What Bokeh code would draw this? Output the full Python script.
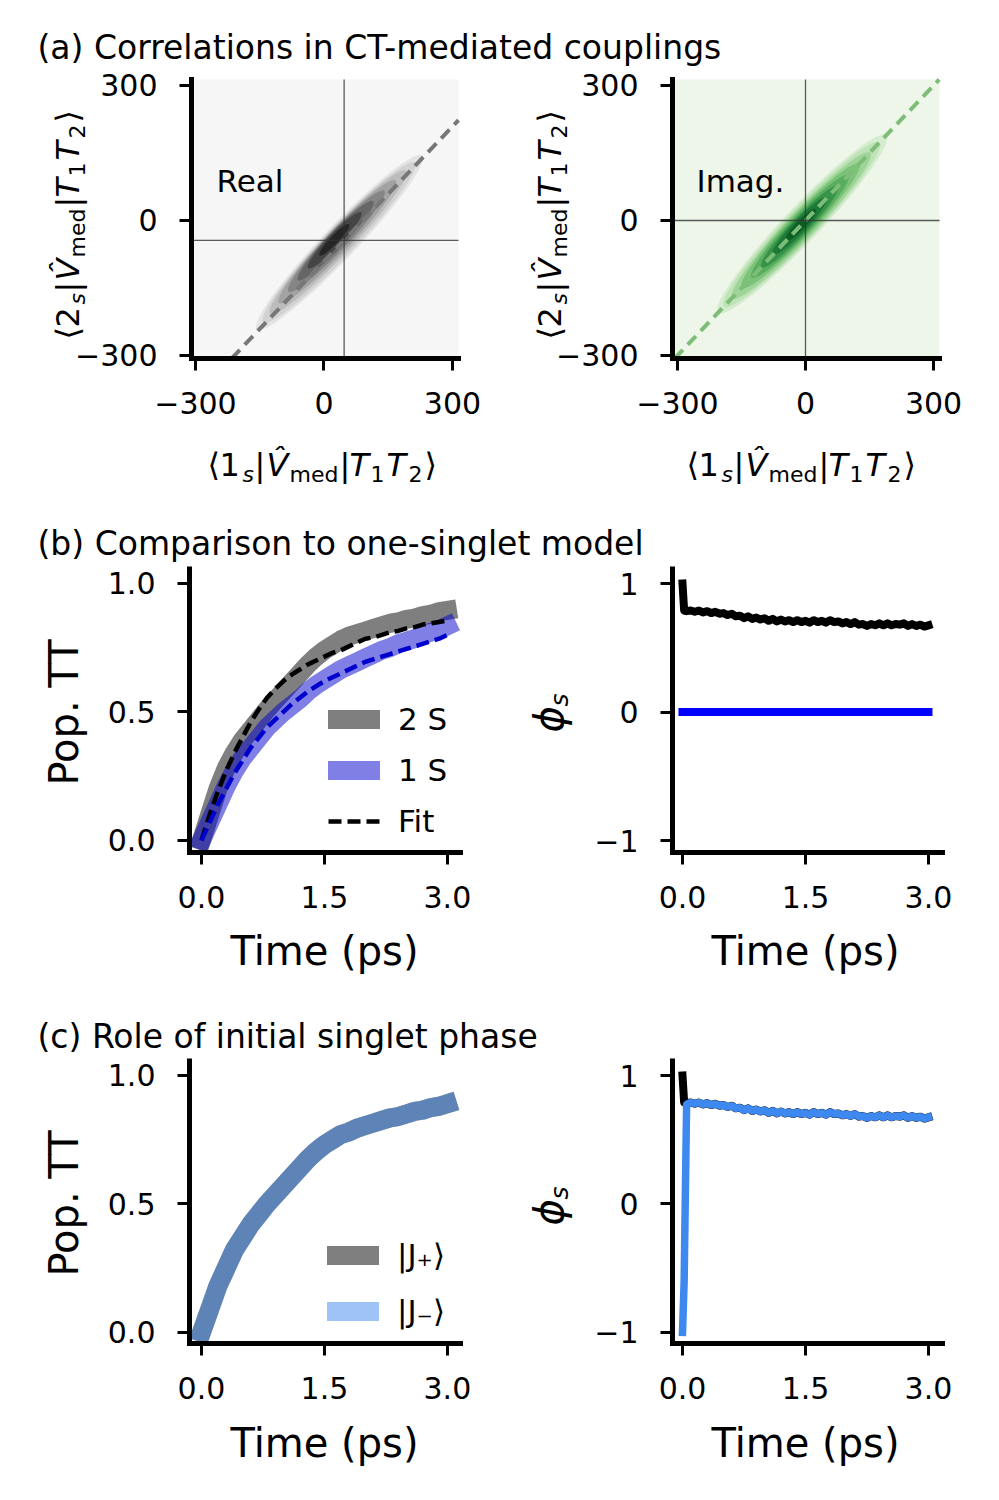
import numpy as np
from bokeh.plotting import figure
from bokeh.models import (Range1d, FixedTicker, Label, Legend, LegendItem, BoxAnnotation,
                          CustomJSTickFormatter)
from bokeh.layouts import column, row
from bokeh.embed import file_html
from bokeh.resources import INLINE

FONT = "DejaVu Sans"

# ---------------------------------------------------------------- data
# (a) CT-mediated couplings: means and KDE contour levels (outer -> inner)
real_mean = [47.0, -44.0]
imag_mean = [0.0, 0.0]
real_kde_cx = [36, 35, 33, 31, 29, 27, 25, 24]
real_kde_cy = [-49, -49, -48, -47, -46, -45, -44, -43]
real_kde_major = [560, 515, 460, 395, 325, 255, 180, 100]
real_kde_minor = [74, 66, 58, 51, 44, 37, 29, 19]
imag_kde_cx = [-8, -9, -10, -12, -13, -14, -14, -12]
imag_kde_cy = [-8, -9, -11, -12, -13, -14, -13, -11]
imag_kde_major = [575, 530, 470, 400, 330, 260, 185, 105]
imag_kde_minor = [78, 70, 62, 54, 46, 38, 30, 20]
ticks_coupling = [-300, 0, 300]

# (b)/(c) populations
time = [0.0, 0.1, 0.2, 0.3, 0.4, 0.5, 0.6, 0.7, 0.8, 0.9, 1.0, 1.1, 1.2, 1.3, 1.4, 1.5,
        1.6, 1.7, 1.8, 1.9, 2.0, 2.1, 2.2, 2.3, 2.4, 2.5, 2.6, 2.7, 2.8, 2.9, 3.0]
pop_2s = [0.00, 0.10, 0.20, 0.28, 0.34, 0.39, 0.43, 0.47, 0.51, 0.545, 0.58, 0.615, 0.65, 0.685,
          0.715, 0.74, 0.76, 0.78, 0.795, 0.805, 0.815, 0.825, 0.835, 0.845, 0.85, 0.86,
          0.865, 0.875, 0.88, 0.89, 0.895]
pop_1s = [0.00, 0.07, 0.14, 0.21, 0.27, 0.32, 0.36, 0.40, 0.44, 0.47, 0.50, 0.525, 0.55, 0.58,
          0.605, 0.625, 0.645, 0.665, 0.68, 0.695, 0.71, 0.725, 0.74, 0.75, 0.765, 0.775,
          0.785, 0.80, 0.81, 0.82, 0.835]
fit_2s = [0.00, 0.10, 0.19, 0.27, 0.34, 0.40, 0.46, 0.51, 0.555, 0.59, 0.62, 0.645, 0.665, 0.685,
          0.70, 0.715, 0.73, 0.74, 0.755, 0.77, 0.785, 0.79, 0.80, 0.81, 0.815, 0.825, 0.83,
          0.84, 0.845, 0.85, 0.856]
fit_1s = [0.00, 0.07, 0.14, 0.20, 0.26, 0.31, 0.36, 0.40, 0.44, 0.47, 0.50, 0.53, 0.555, 0.58,
          0.60, 0.62, 0.635, 0.65, 0.665, 0.68, 0.695, 0.705, 0.715, 0.725, 0.735, 0.745,
          0.755, 0.765, 0.775, 0.785, 0.80]
pop_jplus = [0.00, 0.09, 0.18, 0.25, 0.32, 0.37, 0.42, 0.46, 0.50, 0.535, 0.57, 0.605, 0.64, 0.675,
             0.705, 0.73, 0.75, 0.77, 0.78, 0.795, 0.805, 0.815, 0.825, 0.835, 0.84, 0.85,
             0.86, 0.865, 0.875, 0.88, 0.89]
pop_jminus = [0.00, 0.09, 0.18, 0.25, 0.32, 0.37, 0.42, 0.46, 0.50, 0.535, 0.57, 0.605, 0.64, 0.675,
              0.705, 0.73, 0.75, 0.77, 0.78, 0.795, 0.805, 0.815, 0.825, 0.835, 0.84, 0.85,
              0.86, 0.865, 0.875, 0.88, 0.89]
ticks_time = [0.0, 1.5, 3.0]
ticks_pop = [0.0, 0.5, 1.0]

# (b)/(c) singlet phase
phase_t = [0.0, 0.02, 0.05, 0.10, 0.15, 0.20, 0.25, 0.30, 0.35, 0.40, 0.45, 0.50, 0.55, 0.60,
           0.65, 0.70, 0.75, 0.80, 0.85, 0.90, 0.95, 1.00, 1.05, 1.10, 1.15, 1.20, 1.25, 1.30,
           1.35, 1.40, 1.45, 1.50, 1.55, 1.60, 1.65, 1.70, 1.75, 1.80, 1.85, 1.90, 1.95, 2.00,
           2.05, 2.10, 2.15, 2.20, 2.25, 2.30, 2.35, 2.40, 2.45, 2.50, 2.55, 2.60, 2.65, 2.70,
           2.75, 2.80, 2.85, 2.90, 2.95, 3.00]
phase_2s = [1.00, 0.79, 0.785, 0.79, 0.78, 0.79, 0.775, 0.785, 0.77, 0.78, 0.765, 0.77, 0.755,
            0.765, 0.745, 0.75, 0.73, 0.745, 0.725, 0.735, 0.72, 0.73, 0.71, 0.725, 0.705, 0.72,
            0.705, 0.715, 0.70, 0.715, 0.70, 0.71, 0.695, 0.715, 0.70, 0.71, 0.695, 0.715, 0.70,
            0.705, 0.69, 0.70, 0.685, 0.70, 0.68, 0.685, 0.67, 0.685, 0.675, 0.69, 0.675, 0.69,
            0.675, 0.685, 0.68, 0.69, 0.67, 0.685, 0.67, 0.68, 0.665, 0.675]
phase_jminus = [-1.00, -0.60, 0.775, 0.79, 0.78, 0.79, 0.775, 0.785, 0.77, 0.78, 0.765, 0.77, 0.755,
                0.765, 0.745, 0.75, 0.73, 0.745, 0.725, 0.735, 0.72, 0.73, 0.71, 0.725, 0.705, 0.72,
                0.705, 0.715, 0.70, 0.715, 0.70, 0.71, 0.695, 0.715, 0.70, 0.71, 0.695, 0.715, 0.70,
                0.705, 0.69, 0.70, 0.685, 0.70, 0.68, 0.685, 0.67, 0.685, 0.675, 0.69, 0.675, 0.69,
                0.675, 0.685, 0.68, 0.69, 0.67, 0.685, 0.67, 0.68, 0.665, 0.675]
phase_1s_t = [0.0, 3.0]
phase_1s = [0.0, 0.0]
ticks_phase = [-1, 0, 1]

# ---------------------------------------------------------------- styles
GREYS = ["#e4e4e4", "#d2d2d2", "#bcbcbc", "#a2a2a2", "#858585", "#666666", "#454545", "#262626"]
GREENS = ["#d6ecd0", "#bde3b6", "#9fd499", "#7cc279", "#58ad5f", "#379349", "#1d7a36", "#0b5e24"]
BLUE_MED = "#0000cd"
BLUE_J = "#3d89f0"
BASE_CORR = 0.37   # alphabetic-baseline correction (fraction of font size)

# geometry in page pixels: fig=(x, y, w, h), plot=(left, top, right, bottom)
G = {
    "a1": dict(fig=(0, 67, 500, 438), plot=(191, 79, 458, 358), xr=(-309.3, 314.0), yr=(-306.7, 313.3)),
    "a2": dict(fig=(500, 67, 491, 438), plot=(672, 79, 939, 358), xr=(-311.7, 314.0), yr=(-306.7, 313.3)),
    "b1": dict(fig=(0, 566, 500, 437), plot=(189, 568, 460, 852), xr=(-0.146, 3.16), yr=(-0.047, 1.058)),
    "b2": dict(fig=(500, 566, 491, 437), plot=(672, 568, 942, 852), xr=(-0.122, 3.171), yr=(-1.093, 1.117)),
    "c1": dict(fig=(0, 1058, 500, 434), plot=(189, 1060, 460, 1343), xr=(-0.146, 3.16), yr=(-0.043, 1.058)),
    "c2": dict(fig=(500, 1058, 491, 434), plot=(672, 1060, 942, 1343), xr=(-0.122, 3.171), yr=(-1.086, 1.117)),
}


def px2data(geo, sx, sy):
    l, t, r, b = geo["plot"]
    x0, x1 = geo["xr"]
    y0, y1 = geo["yr"]
    return x0 + (sx - l) / (r - l) * (x1 - x0), y1 - (sy - t) / (b - t) * (y1 - y0)


def tick_fmt(decimals):
    return CustomJSTickFormatter(
        code=f"const s = Math.abs(tick).toFixed({decimals}); return tick < 0 ? '\u2212' + s : s;")


def make_panel(geo, xticks, yticks, xdec, ydec, bg=None):
    fx, fy, W, H = geo["fig"]
    l, t, r, b = geo["plot"]
    x0, x1 = geo["xr"]
    y0, y1 = geo["yr"]
    kx = (x1 - x0) / (r - l)
    ky = (y1 - y0) / (b - t)
    p = figure(width=W, height=H,
               x_range=Range1d(x0 - (l - fx) * kx, x1 + (fx + W - r) * kx),
               y_range=Range1d(y0 - (fy + H - b) * ky, y1 + (t - fy) * ky),
               output_backend="svg", toolbar_location=None, tools="",
               min_border=0, min_border_left=0, min_border_right=0,
               min_border_top=0, min_border_bottom=0)
    p.grid.visible = False
    p.outline_line_color = None
    p.background_fill_color = "white"
    p.border_fill_color = "white"
    if bg is not None:
        p.add_layout(BoxAnnotation(left=x0, right=x1, bottom=y0, top=y1, fill_color=bg,
                                   fill_alpha=1.0, line_color=None, level="underlay"))
    for ax in (p.xaxis[0], p.yaxis[0]):
        ax.axis_line_width = 5
        ax.axis_line_color = "black"
        ax.axis_line_cap = "square"
        ax.major_tick_line_width = 3
        ax.major_tick_line_color = "black"
        ax.major_tick_out = 12
        ax.major_tick_in = 0
        ax.minor_tick_line_color = None
        ax.major_label_text_font = FONT
        ax.major_label_text_font_size = "30px"
        ax.major_label_text_color = "black"
    p.xaxis[0].fixed_location = y0
    p.xaxis[0].bounds = (x0, x1)
    p.yaxis[0].fixed_location = x0
    p.yaxis[0].bounds = (y0, y1)
    p.xaxis[0].ticker = FixedTicker(ticks=xticks)
    p.yaxis[0].ticker = FixedTicker(ticks=yticks)
    p.xaxis[0].formatter = tick_fmt(xdec)
    p.yaxis[0].formatter = tick_fmt(ydec)
    p.xaxis[0].major_label_standoff = 21
    p.yaxis[0].major_label_standoff = 22
    return p


def add_text(p, geo, sx, sy, text, size, italic=False, vertical=False, align="left"):
    if vertical:
        sx -= BASE_CORR * size
    else:
        sy -= BASE_CORR * size
    x, y = px2data(geo, sx, sy)
    p.add_layout(Label(x=x, y=y, text=text, text_font=FONT, text_font_size=f"{size}px",
                       text_font_style="italic" if italic else "normal",
                       angle=np.pi / 2 if vertical else 0.0,
                       text_align=align, text_baseline="alphabetic", text_color="black"))


# pieces of <k_s|V^_med|T_1 T_2>: offsets along the line (px), italic, subscript
MATH_OFFS = [-2, 10, 33, 45, 57, 80, 130, 140, 161, 177, 199, 215]
MATH_ITAL = [False, False, True, False, True, False, False, True, False, True, False, False]
MATH_SUB = [False, False, True, False, False, True, False, False, True, False, True, False]


def math_label(p, geo, k, start, base, vertical):
    texts = ["\u27e8", k, "s", "|", "V\u0302", "med", "|", "T", "1", "T", "2", "\u27e9"]
    for txt, off, it, sub in zip(texts, MATH_OFFS, MATH_ITAL, MATH_SUB):
        size = 22 if sub else 32
        shift = 6 if sub else 0
        if vertical:
            add_text(p, geo, base + shift, start - off, txt, size, it, vertical=True)
        else:
            add_text(p, geo, start + off, base + shift, txt, size, it)


def title_fig(y, h, text, baseline):
    p = figure(width=991, height=h, x_range=Range1d(0, 991), y_range=Range1d(0, h),
               output_backend="svg", toolbar_location=None, tools="",
               x_axis_location=None, y_axis_location=None, min_border=0,
               min_border_left=0, min_border_right=0, min_border_top=0, min_border_bottom=0)
    p.grid.visible = False
    p.outline_line_color = None
    p.add_layout(Label(x=37, y=h - (baseline - y) + BASE_CORR * 33, text=text, text_font=FONT,
                       text_font_size="33px", text_align="left", text_baseline="alphabetic",
                       text_color="black"))
    return p


# ---------------------------------------------------------------- (a)
def kde_panel(geo, cx, cy, major, minor, colors, mean, bg, diag_color, word, word_x):
    p = make_panel(geo, ticks_coupling, ticks_coupling, 0, 0, bg=bg)
    l, t, r, b = geo["plot"]
    x0, x1 = geo["xr"]
    y0, y1 = geo["yr"]
    ang = float(np.arctan2((b - t) / (y1 - y0), (r - l) / (x1 - x0)))
    p.ellipse(x=cx, y=cy, width=major, height=minor, angle=ang, fill_color=colors, line_color=None)
    c = mean[1] - mean[0]
    xa, xb = max(x0, y0 - c), min(x1, y1 - c)
    p.line([xa, xb], [xa + c, xb + c], line_color=diag_color, line_width=4, line_dash="12 7")
    p.segment(x0=[mean[0], x0], y0=[y0, mean[1]], x1=[mean[0], x1], y1=[y1, mean[1]],
              line_color="#333333", line_width=1.3, line_alpha=0.8)
    add_text(p, geo, word_x, 192, word, 31)
    return p


pa1 = kde_panel(G["a1"], real_kde_cx, real_kde_cy, real_kde_major, real_kde_minor, GREYS,
                real_mean, "#f6f6f6", "#777777", "Real", 216)
pa2 = kde_panel(G["a2"], imag_kde_cx, imag_kde_cy, imag_kde_major, imag_kde_minor, GREENS,
                imag_mean, "#eef6ea", "#7dbd77", "Imag.", 696)
math_label(pa1, G["a1"], "1", 209, 476, False)
math_label(pa1, G["a1"], "2", 337, 79, True)
math_label(pa2, G["a2"], "1", 688, 476, False)
math_label(pa2, G["a2"], "2", 337, 561, True)


# ---------------------------------------------------------------- (b)/(c) helpers
def pop_labels(p, geo, cy, base_y):
    add_text(p, geo, 78, cy, "Pop. TT", 40, vertical=True, align="center")
    add_text(p, geo, 324, base_y, "Time (ps)", 40, align="center")


def phase_labels(p, geo, cy, base_y):
    add_text(p, geo, 563, cy + 20, "\u03d5", 40, True, vertical=True)
    add_text(p, geo, 568, cy - 6, "s", 25, True, vertical=True)
    add_text(p, geo, 805, base_y, "Time (ps)", 40, align="center")


def style_legend(items, loc, spacing):
    return Legend(items=items, location=loc, label_text_font=FONT, label_text_font_size="31px",
                  label_text_color="black",
                  glyph_width=52, glyph_height=34, label_height=34, label_standoff=18,
                  spacing=spacing, padding=0, margin=0, border_line_color=None,
                  background_fill_alpha=0)


# (b) left
pb1 = make_panel(G["b1"], ticks_time, ticks_pop, 1, 1)
r2 = pb1.line(time, pop_2s, line_width=19, line_color="black", line_alpha=0.5,
              line_cap="square", line_join="round")
r1 = pb1.line(time, pop_1s, line_width=19, line_color=BLUE_MED, line_alpha=0.5,
              line_cap="square", line_join="round")
rf = pb1.line(time, fit_2s, line_width=4.5, line_color="black", line_dash="13 6")
pb1.line(time, fit_1s, line_width=4.5, line_color=BLUE_MED, line_dash="13 6")
pb1.add_layout(style_legend([LegendItem(label="2 S", renderers=[r2]),
                             LegendItem(label="1 S", renderers=[r1]),
                             LegendItem(label="Fit", renderers=[rf])], (328, 164), 15))
pop_labels(pb1, G["b1"], 712, 965)

# (b) right
pb2 = make_panel(G["b2"], ticks_time, ticks_phase, 1, 0)
pb2.line(phase_t, phase_2s, line_width=8, line_color="black", line_join="round", line_cap="square")
pb2.line(phase_1s_t, phase_1s, line_width=8, line_color="blue", line_cap="square")
phase_labels(pb2, G["b2"], 712, 965)

# (c) left
pc1 = make_panel(G["c1"], ticks_time, ticks_pop, 1, 1)
rp = pc1.line(time, pop_jplus, line_width=19, line_color="black", line_alpha=0.5,
              line_cap="square", line_join="round")
rm = pc1.line(time, pop_jminus, line_width=19, line_color=BLUE_J, line_alpha=0.5,
              line_cap="square", line_join="round")
pc1.add_layout(style_legend([LegendItem(label="|J\u208a\u27e9", renderers=[rp]),
                             LegendItem(label="|J\u208b\u27e9", renderers=[rm])], (327, 163), 20))
pop_labels(pc1, G["c1"], 1203, 1457)

# (c) right
pc2 = make_panel(G["c2"], ticks_time, ticks_phase, 1, 0)
pc2.line(phase_t, phase_2s, line_width=8, line_color="black", line_join="round", line_cap="square")
pc2.line(phase_t, phase_jminus, line_width=7.5, line_color=BLUE_J, line_join="round", line_cap="square")
phase_labels(pc2, G["c2"], 1205, 1457)

# ---------------------------------------------------------------- layout
ta = title_fig(0, 67, "(a) Correlations in CT-mediated couplings", 59)
tb = title_fig(505, 61, "(b) Comparison to one-singlet model", 555)
tc = title_fig(1003, 55, "(c) Role of initial singlet phase", 1048)

layout = column(ta, row(pa1, pa2), tb, row(pb1, pb2), tc, row(pc1, pc2))
open("out.html", "w").write(file_html(layout, INLINE))
